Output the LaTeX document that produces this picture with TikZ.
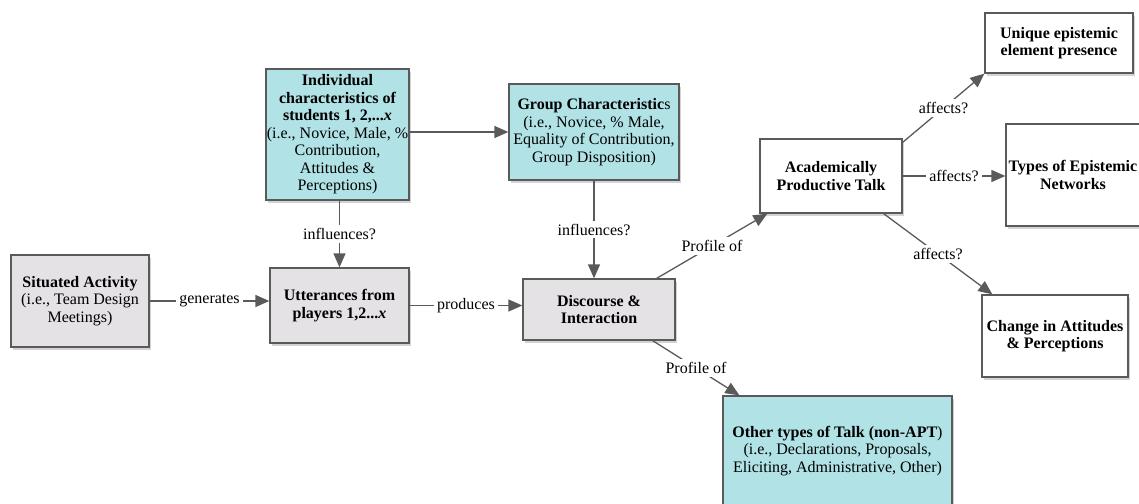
\documentclass[tikz,border=0pt]{standalone}
\usepackage{fontspec}
\setmainfont{Liberation Serif}
\usetikzlibrary{arrows.meta,shadows}
\definecolor{tealbox}{RGB}{176,226,230}
\definecolor{greybox}{RGB}{228,226,228}
\definecolor{edgegrey}{RGB}{90,90,90}

\begin{document}
\begin{tikzpicture}[x=1pt,y=-1pt,
  font=\fontsize{16}{17.5}\selectfont,
  box/.style={draw=edgegrey,line width=1.3pt,align=center,inner sep=1pt,
    drop shadow={opacity=0.35,shadow xshift=2pt,shadow yshift=-3pt}},
  greyb/.style={box,fill=greybox},
  tealb/.style={box,fill=tealbox},
  whiteb/.style={box,fill=white},
  link/.style={draw=edgegrey,line width=1.3pt,-{Triangle[length=14pt,width=12pt]}},
  lbl/.style={fill=white,inner sep=3pt}]
\useasboundingbox (0,0) rectangle (1139,503);

\node[greyb,minimum width=138pt,minimum height=92pt] (situated) at (80,301) {\textbf{Situated Activity}\\(i.e., Team Design\\Meetings)};
\node[tealb,minimum width=141pt,minimum height=131pt] (indiv) at (337.5,134.5) {\textbf{Individual}\\\textbf{characteristics of}\\\textbf{students 1, 2,...\textit{x}}\\(i.e., Novice, Male, \%\\Contribution,\\Attitudes \&\\Perceptions)};
\node[tealb,minimum width=170pt,minimum height=96pt] (group) at (594,132) {\textbf{Group Characteristic}s\\(i.e., Novice, \% Male,\\Equality of Contribution,\\Group Disposition)};
\node[greyb,minimum width=139pt,minimum height=75pt] (utter) at (339.5,305.5) {\textbf{Utterances from}\\\textbf{players 1,2...\textit{x}}};
\node[greyb,minimum width=152pt,minimum height=61pt] (discourse) at (599,309.5) {\textbf{Discourse \&}\\\textbf{Interaction}};
\node[whiteb,minimum width=142pt,minimum height=74pt] (apt) at (831,176) {\textbf{Academically}\\\textbf{Productive Talk}};
\node[whiteb,minimum width=148pt,minimum height=60pt] (unique) at (1059,43) {\textbf{Unique epistemic}\\\textbf{element presence}};
\node[whiteb,minimum width=134pt,minimum height=102pt] (networks) at (1073,175) {\textbf{Types of Epistemic}\\\textbf{Networks}};
\node[whiteb,minimum width=146pt,minimum height=82pt] (attitudes) at (1055,336) {\textbf{Change in Attitudes}\\\textbf{\& Perceptions}};
\node[tealb,minimum width=229pt,minimum height=110pt] (other) at (837.5,451) {\textbf{Other types of Talk (non-APT})\\(i.e., Declarations, Proposals,\\Eliciting, Administrative, Other)};

\draw[link] (situated.east) -- node[lbl] {generates} (situated.east -| utter.west);
\draw[link] (utter.east) -- node[lbl] {produces} (utter.east -| discourse.west);
\draw[link] (utter.north |- indiv.south) -- node[lbl] {influences?} (utter.north);
\draw[link] (indiv.east |- group.west) -- (group.west);
\draw[link] (group.south) -- node[lbl] {influences?} (group.south |- discourse.north);
\draw[link] ([xshift=-19pt]discourse.north east) -- node[lbl] {Profile of} ([xshift=8pt]apt.south west);
\draw[link] ([xshift=-23pt]discourse.south east) -- node[lbl] {Profile of} ([xshift=17pt]other.north west);
\draw[link] ([yshift=-4pt]apt.north east) -- node[lbl] {affects?} (unique.south west);
\draw[link] (apt.east) -- node[lbl] {affects?} (apt.east -| networks.west);
\draw[link] ([xshift=-19pt]apt.south east) -- node[lbl] {affects?} ([xshift=11pt]attitudes.north west);
\end{tikzpicture}
\end{document}
